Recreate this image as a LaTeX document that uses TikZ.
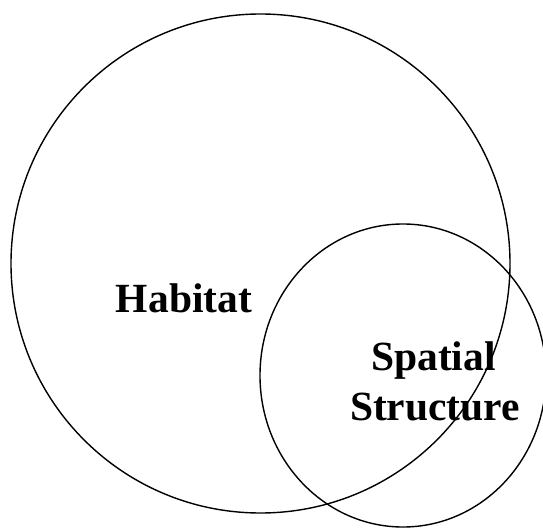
\documentclass[tikz,border=0pt]{standalone}
\usepackage{fontspec}
\setmainfont{Liberation Serif}
\usepackage{xcolor}
\usetikzlibrary{shapes.geometric}
\definecolor{ink}{HTML}{000000}
\tikzset{
  every node/.style={font=\rmfamily},
  ring/.style={draw=ink, line width=1.4pt, inner sep=0pt, outer sep=0pt},
  biglabel/.style={font=\rmfamily\bfseries\fontsize{41.5}{49}\selectfont, text=ink, inner sep=0pt, anchor=base},
}
\begin{document}
\begin{tikzpicture}[x=1pt,y=-1pt]
\useasboundingbox (0,0) rectangle (543,529);
\node[ring, circle, minimum size=499pt] (habitat) at (260.5,263.5) {};
\node[ring, ellipse, minimum width=286pt, minimum height=303pt] (spatial) at (403,375.5) {};
\node[biglabel] (habitatlabel) at (184,312) {Habitat};
\node[biglabel] (spatiallabel) at (433.5,370) {Spatial};
\node[biglabel] (structurelabel) at (435,420.5) {Structure};
\end{tikzpicture}
\end{document}
